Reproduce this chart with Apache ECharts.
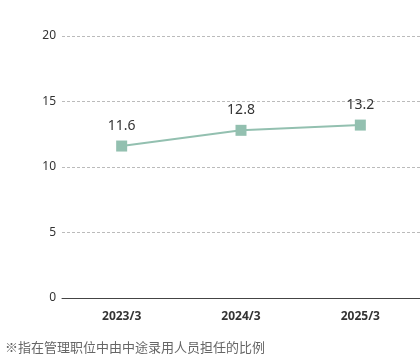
<!DOCTYPE html>
<html><head><meta charset="utf-8">
<script src="https://cdn.jsdelivr.net/npm/echarts@6/dist/echarts.min.js"></script>
<style>html,body{margin:0;padding:0;background:#fff}#c{width:420px;height:360px}</style>
</head><body><div id="c"></div>
<script>
const categories = ['2023/3', '2024/3', '2025/3'];
const values = [11.6, 12.8, 13.2];
const yTicks = [0, 5, 10, 15, 20];
const footnote = '※指在管理职位中由中途录用人员担任的比例';

const chart = echarts.init(document.getElementById('c'), null, {renderer: 'canvas'});
chart.setOption({
  animation: false,
  grid: {left: 62, right: 0, top: 36, bottom: 62},
  graphic: [{type: 'text', left: 5, top: 341, style: {text: footnote, fill: '#666', font: '13px "Noto Sans CJK SC"'}}],
  xAxis: {
    type: 'category', data: categories, boundaryGap: true,
    axisLine: {lineStyle: {color: '#444', width: 1}},
    axisTick: {show: false},
    axisLabel: {color: '#333', fontWeight: 'bold', fontSize: 12, margin: 13, fontFamily: '"Noto Sans", sans-serif'}
  },
  yAxis: {
    type: 'value', min: yTicks[0], max: yTicks[yTicks.length - 1], interval: 5,
    axisLine: {show: false}, axisTick: {show: false},
    axisLabel: {color: '#333', fontSize: 12, margin: 6, fontFamily: '"Noto Sans", sans-serif'},
    splitLine: {lineStyle: {color: '#bbb', type: [3, 2]}}
  },
  series: [{
    type: 'line', data: values, symbol: 'rect', symbolSize: 11,
    lineStyle: {color: '#93c0b0', width: 2},
    itemStyle: {color: '#93c0b0'},
    label: {show: true, position: 'top', distance: 8, color: '#333', fontSize: 14, fontFamily: '"Noto Sans", sans-serif'}
  }]
});
</script></body></html>
